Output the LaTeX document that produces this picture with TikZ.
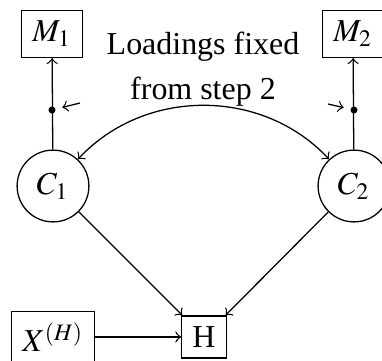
\documentclass[tikz,border=0pt]{standalone}
\usepackage{mathptmx}
\usepackage{fontspec}
\setmainfont{Liberation Serif}
\usepackage{tikz}

\begin{document}
\begin{tikzpicture}[x=0.011cm, y=0.011cm, >=to]
  \tikzset{obs/.style={draw, rectangle},
           lat/.style={draw, circle, minimum size=0.79cm, inner sep=0pt},
           pin/.style={circle, fill, inner sep=0pt, minimum size=2.2pt}}
  \useasboundingbox (0,0) rectangle (382,360);

  % measured blocks
  \node[obs] (M1) at (52,326) {$M_1$};
  \node[obs] (M2) at (353,326) {$M_2$};
  \node[obs] (X) at (53,23) {$X^{(H)}$};
  \node[obs] (H) at (204,23) {H};

  % latent factors
  \node[lat] (C1) at (53,174) {$C_1$};
  \node[lat] (C2) at (354,174) {$C_2$};

  % loadings
  \draw[->] (C1) -- (M1);
  \draw[->] (C2) -- (M2);
  \node[pin] (d1) at (52,250) {};
  \node[pin] (d2) at (354,250) {};
  \coordinate (f1) at (80,257);
  \coordinate (f2) at (328,256);
  \draw[->, shorten >=2pt] (f1) -- (d1);
  \draw[->, shorten >=2pt] (f2) -- (d2);
  \node[align=center] (note) at (203,291) {Loadings fixed\\[2pt]from step 2};

  % paths to H
  \draw[<->] (C1) to[out=47, in=133] (C2);
  \draw[->] (C1) -- (H);
  \draw[->] (C2) -- (H);
  \draw[->] (X) -- (H);
\end{tikzpicture}
\end{document}
